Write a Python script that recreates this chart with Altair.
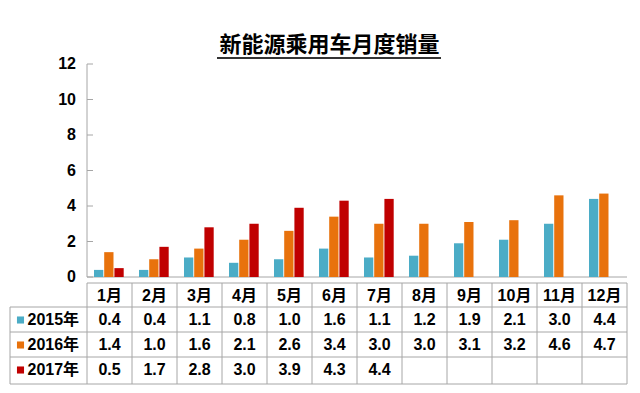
import altair as alt
import pandas as pd

# ---------------- data ----------------
months = ["1月", "2月", "3月", "4月", "5月", "6月", "7月", "8月", "9月", "10月", "11月", "12月"]
series = ["2015年", "2016年", "2017年"]
s2015 = [0.4, 0.4, 1.1, 0.8, 1.0, 1.6, 1.1, 1.2, 1.9, 2.1, 3.0, 4.4]
s2016 = [1.4, 1.0, 1.6, 2.1, 2.6, 3.4, 3.0, 3.0, 3.1, 3.2, 4.6, 4.7]
s2017 = [0.5, 1.7, 2.8, 3.0, 3.9, 4.3, 4.4]
y_ticks = [0, 2, 4, 6, 8, 10, 12]
title_text = "新能源乘用车月度销量"
colors = ["#4BACC6", "#E8720C", "#C00000"]

# ---------------- layout (pixels -> data units) ----------------
PX_X = 45.0          # px per month column
PX_Y = 17.75         # px per y unit
AX_X, AX_Y = 87, 277  # page px of the origin
def ux(px):
    return (px - AX_X) / PX_X
def uy(px):
    return (AX_Y - px) / PX_Y

X_MIN = ux(10)
W = 617
H = 320
Y_MIN = 12 - H / PX_Y

FONT = "Liberation Sans, Arial, Noto Sans CJK SC"
GRID = "#a6a6a6"

rows = []
for si, (name, vals) in enumerate(zip(series, [s2015, s2016, s2017])):
    for mi, v in enumerate(vals):
        rows.append({"month": months[mi], "mi": mi, "series": name, "si": si, "value": v})
df = pd.DataFrame(rows)

xs = alt.Scale(domain=[X_MIN, 12], nice=False, zero=False)
ys = alt.Scale(domain=[Y_MIN, 12], nice=False, zero=False)
cs = alt.Scale(domain=series, range=colors)

def X(f):
    return alt.X(f, scale=xs, axis=None)
def Y(f):
    return alt.Y(f, scale=ys, axis=None)

SLOT = 10.2 / PX_X
BAR = 9.3 / PX_X
START = 7.0 / PX_X

bars = alt.Chart(df).transform_calculate(
    x0=f"datum.mi + {START} + datum.si * {SLOT}",
    x1=f"datum.mi + {START} + datum.si * {SLOT} + {BAR}",
).mark_bar().encode(
    x=X("x0:Q"), x2="x1:Q",
    y=Y("value:Q"), y2=alt.datum(0),
    color=alt.Color("series:N", scale=cs, legend=None),
)

# axis lines
axis_df = pd.DataFrame([
    {"x": 0, "x2": 0, "y": 0, "y2": 12},
    {"x": 0, "x2": 12, "y": 0, "y2": 0},
])
axes = alt.Chart(axis_df).mark_rule(color=GRID, strokeWidth=1).encode(
    x=X("x:Q"), x2="x2:Q", y=Y("y:Q"), y2="y2:Q",
)

# y ticks (pointing inward) and labels
tick_df = pd.DataFrame({"v": y_ticks})
ticks = alt.Chart(tick_df).transform_calculate(
    xa="0", xb=f"{ux(93)}"
).mark_rule(color=GRID, strokeWidth=1).encode(
    x=X("xa:Q"), x2="xb:Q", y=Y("v:Q"),
)
tick_labels = alt.Chart(tick_df).transform_calculate(
    xa=f"{ux(76)}"
).mark_text(font=FONT, fontSize=16, fontWeight="bold", color="black", baseline="middle", align="right").encode(
    x=X("xa:Q"), y=Y("v:Q"), text="v:Q",
)

# table grid
lines = [{"x": 0, "x2": 12, "y": uy(283), "y2": uy(283)}]
for py in [307, 332, 357, 384]:
    lines.append({"x": X_MIN, "x2": 12, "y": uy(py), "y2": uy(py)})
lines.append({"x": X_MIN, "x2": X_MIN, "y": uy(307), "y2": uy(384)})
for k in range(13):
    lines.append({"x": k, "x2": k, "y": uy(283), "y2": uy(384)})
grid = alt.Chart(pd.DataFrame(lines)).mark_rule(color=GRID, strokeWidth=1).encode(
    x=X("x:Q"), x2="x2:Q", y=Y("y:Q"), y2="y2:Q",
)

HEADER_Y = uy(295.5)
ROW_Y = [uy(320), uy(345), uy(370)]

hdr_df = pd.DataFrame({"month": months, "mi": list(range(12))})
header = alt.Chart(hdr_df).transform_calculate(
    xc="datum.mi + 0.5", yc=f"{HEADER_Y}"
).mark_text(font=FONT, fontSize=16, fontWeight="bold", color="black", baseline="middle").encode(
    x=X("xc:Q"), y=Y("yc:Q"), text="month:N"
)

values = alt.Chart(df).transform_calculate(
    xc="datum.mi + 0.5",
    yc=f"[{ROW_Y[0]}, {ROW_Y[1]}, {ROW_Y[2]}][datum.si]",
).mark_text(font=FONT, fontSize=16, fontWeight="bold", color="black", baseline="middle").encode(
    x=X("xc:Q"), y=Y("yc:Q"), text=alt.Text("value:Q", format=".1f"),
)

leg_df = pd.DataFrame({"series": series, "si": [0, 1, 2]})
squares = alt.Chart(leg_df).transform_calculate(
    xc=f"{ux(20.5)}", yc=f"[{ROW_Y[0]}, {ROW_Y[1]}, {ROW_Y[2]}][datum.si]"
).mark_square(size=50, opacity=1).encode(
    x=X("xc:Q"), y=Y("yc:Q"),
    color=alt.Color("series:N", scale=cs, legend=None),
)
labels = alt.Chart(leg_df).transform_calculate(
    xc=f"{ux(27.5)}", yc=f"[{ROW_Y[0]}, {ROW_Y[1]}, {ROW_Y[2]}][datum.si]"
).mark_text(font=FONT, fontSize=16, fontWeight="bold", color="black", baseline="middle", align="left").encode(
    x=X("xc:Q"), y=Y("yc:Q"), text="series:N"
)

underline = alt.Chart(pd.DataFrame({"a": [0]})).mark_rule(color="#333333", strokeWidth=2).encode(
    x=alt.value(217 - 10), x2=alt.value(441 - 10), y=alt.value(58 - 64)
)

chart = alt.layer(grid, axes, ticks, tick_labels, bars, header, values, squares, labels, underline).properties(
    width=W, height=H,
    title=alt.TitleParams(title_text, font="Noto Sans CJK SC", fontSize=22, fontWeight="bold",
                          color="black", anchor="middle", dx=11, offset=-1),
    autosize=alt.AutoSizeParams(type="none"),
    padding={"left": 2, "top": 56, "right": 5, "bottom": 5},
).configure_view(stroke=None)

chart.save("out.html", embed_options={"renderer": "svg", "actions": False})
